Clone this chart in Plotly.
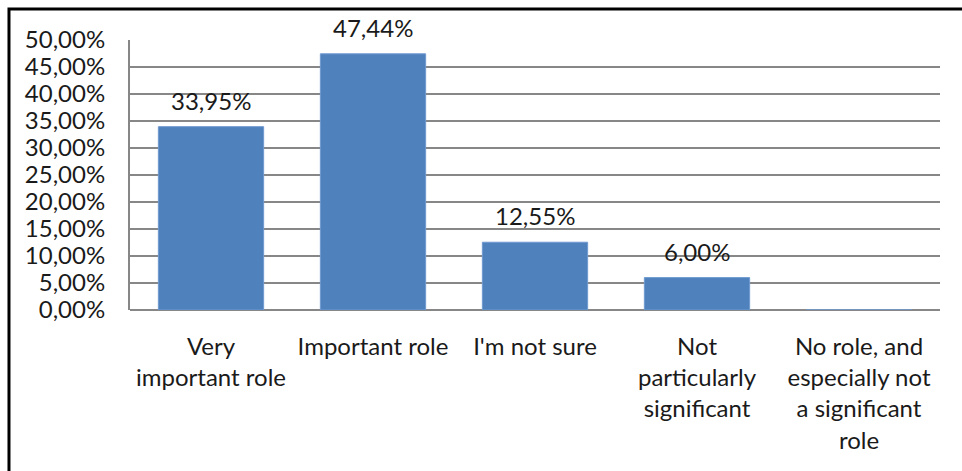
import plotly.graph_objects as go

# Survey responses: perceived role, share of respondents (%)
categories = [
    "Very<br>important role",
    "Important role",
    "I'm not sure",
    "Not<br>particularly<br>significant",
    "No role, and<br>especially not<br>a significant<br>role",
]
shares = [33.95, 47.44, 12.55, 6.00, 0.0]
shown_labels = [True, True, True, True, False]

y_ticks = [0, 5, 10, 15, 20, 25, 30, 35, 40, 45, 50]


def pct(v):
    return f"{v:.2f}".replace(".", ",") + "%"


FONT = "Lato"
TEXT = "#1a1a1a"
GRID = "#878787"
BAR = "#4f81bd"

fig = go.Figure(
    go.Bar(
        x=categories,
        y=shares,
        marker=dict(color=BAR, line=dict(color="#6f9ad0", width=1)),
        width=0.65,
        hoverinfo="skip",
    )
)

# value labels above each bar
for cat, val, show in zip(categories, shares, shown_labels):
    if not show:
        continue
    fig.add_annotation(
        x=cat, y=val, xref="x", yref="y",
        text=pct(val),
        showarrow=False, yanchor="bottom", yshift=10,
        font=dict(family=FONT, size=24, color=TEXT),
    )

# outer frame of the chart
fig.add_shape(
    type="rect", xref="paper", yref="paper",
    x0=-0.1494, x1=1.2, y0=-0.8, y1=1.1148,
    line=dict(color="black", width=3), fillcolor="rgba(0,0,0,0)",
    layer="above",
)

fig.update_layout(
    width=962, height=471,
    margin=dict(l=130, r=22, t=40, b=161),
    paper_bgcolor="white", plot_bgcolor="white",
    showlegend=False,
    font=dict(family=FONT, size=24, color=TEXT),
    bargap=0.35,
)

fig.update_xaxes(
    type="category",
    showgrid=False, ticks="", tickangle=0,
    showline=False, zeroline=False,
    ticklabelstandoff=20,
    tickfont=dict(family=FONT, size=24, color=TEXT),
)

fig.update_yaxes(
    range=[0, 50], tickmode="array",
    tickvals=y_ticks, ticktext=[pct(v) for v in y_ticks],
    showgrid=True, gridcolor=GRID, gridwidth=2,
    zeroline=True, zerolinecolor=GRID, zerolinewidth=2,
    showline=True, linecolor=GRID, linewidth=2,
    ticks="", ticklabelstandoff=18,
    tickfont=dict(family=FONT, size=24, color=TEXT),
)

fig.write_html("out.html")
